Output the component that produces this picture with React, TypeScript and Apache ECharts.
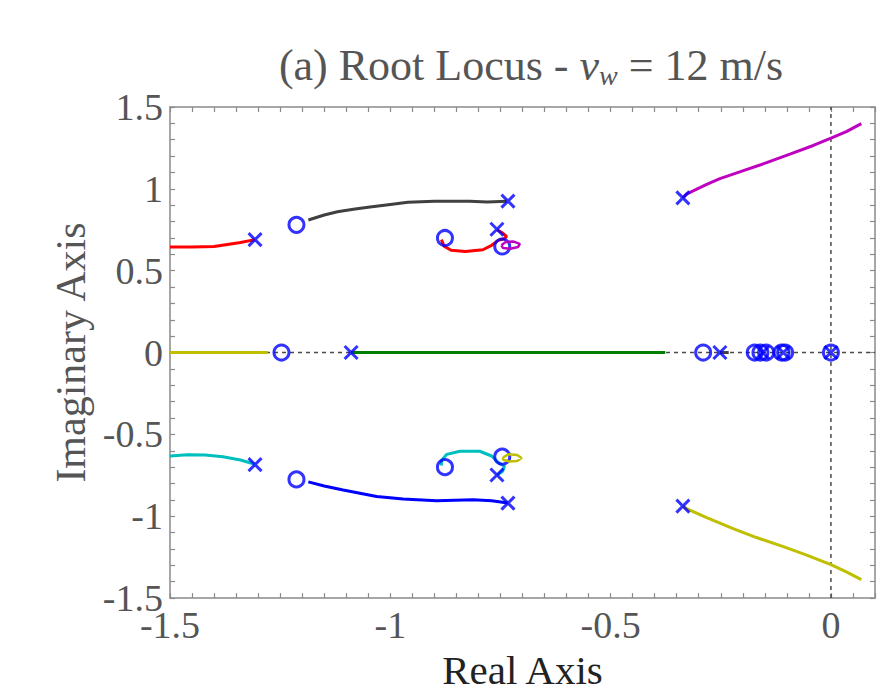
import React, { useEffect, useRef } from "react";
import * as echarts from "echarts";

// ---- data ----
const xTickValues = [-1.5, -1, -0.5, 0];
const yTickValues = [-1.5, -1, -0.5, 0, 0.5, 1, 1.5];

const poles: number[][] = [
  [-1.307, 0.69], [-1.307, -0.685], [-0.733, 0.925], [-0.733, -0.92],
  [-0.758, 0.753], [-0.758, -0.748], [-1.089, 0], [-0.336, 0.945],
  [-0.336, -0.938], [-0.252, 0], [-0.155, 0], [-0.108, 0], [0, 0],
];
const zeros: number[][] = [
  [-1.213, 0.78], [-1.213, -0.775], [-1.247, 0], [-0.876, 0.7],
  [-0.876, -0.7], [-0.746, 0.648], [-0.746, -0.636], [-0.29, 0],
  [-0.173, 0], [-0.16, 0], [-0.147, 0], [-0.112, 0], [-0.104, 0], [0, 0],
];

const redLeft = [[-1.5, 0.645], [-1.45, 0.645], [-1.4, 0.648], [-1.37, 0.66], [-1.34, 0.672], [-1.307, 0.69]];
const cyanLeft = [[-1.5, -0.632], [-1.46, -0.625], [-1.42, -0.626], [-1.38, -0.636], [-1.34, -0.656], [-1.307, -0.682]];
const blackUpper = [[-1.186, 0.81], [-1.15, 0.84], [-1.12, 0.86], [-1.08, 0.877], [-1.046, 0.889], [-1.0, 0.905], [-0.96, 0.918], [-0.9, 0.925], [-0.82, 0.925], [-0.78, 0.92], [-0.736, 0.925]];
const blueLower = [[-1.186, -0.79], [-1.15, -0.815], [-1.107, -0.84], [-1.031, -0.879], [-0.971, -0.895], [-0.895, -0.905], [-0.812, -0.899], [-0.77, -0.905], [-0.733, -0.919]];
const redLoop = [[-0.758, 0.75], [-0.745, 0.73], [-0.736, 0.71], [-0.742, 0.695], [-0.755, 0.685], [-0.77, 0.655], [-0.79, 0.628], [-0.83, 0.618], [-0.862, 0.625], [-0.878, 0.65], [-0.884, 0.69]];
const cyanLoop = [[-0.758, -0.75], [-0.745, -0.725], [-0.741, -0.695], [-0.755, -0.672], [-0.77, -0.632], [-0.797, -0.603], [-0.842, -0.603], [-0.872, -0.622], [-0.884, -0.66], [-0.884, -0.69]];
const magentaLoop = [[-0.748, 0.655], [-0.738, 0.676], [-0.72, 0.678], [-0.706, 0.664], [-0.71, 0.645], [-0.728, 0.634], [-0.744, 0.638], [-0.748, 0.655]];
const yellowLoop = [[-0.744, -0.64], [-0.732, -0.622], [-0.712, -0.626], [-0.702, -0.644], [-0.712, -0.662], [-0.73, -0.666], [-0.744, -0.655], [-0.744, -0.64]];
const yellowAxis = [[-1.5, 0], [-1.278, 0]];
const greenAxis = [[-1.089, 0], [-0.376, 0]];
const grayStub = [[-0.252, 0], [-0.232, 0]];
const magentaUpper = [[-0.336, 0.945], [-0.328, 0.968], [-0.282, 1.027], [-0.252, 1.062], [-0.207, 1.104], [-0.146, 1.16], [-0.093, 1.212], [-0.04, 1.265], [0.0, 1.31], [0.035, 1.35], [0.069, 1.398]];
const yellowLower = [[-0.336, -0.938], [-0.328, -0.953], [-0.282, -1.008], [-0.222, -1.075], [-0.169, -1.13], [-0.108, -1.186], [-0.055, -1.237], [0.0, -1.296], [0.035, -1.34], [0.069, -1.387]];
const zeroLineH = [[-1.5, 0], [0.1, 0]];
const zeroLineV = [[0, -1.5], [0, 1.5]];

const X_MIN = -1.5, X_MAX = 0.1, Y_MIN = -1.5, Y_MAX = 1.5;

const FONT = "'Liberation Serif', 'DejaVu Serif', serif";
const TEXT = "#555555";
const FRAME = "#8a8a8a";

function isMajor(v: number, ticks: number[]) {
  return ticks.some((t) => Math.abs(t - v) < 1e-6);
}
function fmt(v: number) {
  const r = Math.round(v * 10) / 10;
  return r === 0 ? "0" : String(r);
}

export default function App() {
  const ref = useRef<HTMLDivElement>(null);
  useEffect(() => {
    document.body.style.margin = "0";
    const chart = echarts.init(ref.current!, null, { renderer: "svg" });
    const line = (data: number[][], color: string, width = 3, z = 3) => ({
      type: "line",
      data,
      showSymbol: false,
      symbol: "none",
      smooth: false,
      z,
      lineStyle: { color, width },
      silent: true,
    });
    const dashed = (data: number[][]) => ({
      type: "line",
      data,
      symbol: "none",
      z: 1,
      lineStyle: { color: "#4a4a4a", width: 1.5, type: [4, 4] },
      silent: true,
    });
    const axisCommon = {
      type: "value",
      axisLine: { show: true, onZero: false, lineStyle: { color: FRAME, width: 1.5 } },
      axisTick: { show: true, inside: true, length: 5, lineStyle: { color: FRAME, width: 1.2 } },
      splitLine: { show: false },
    };
    chart.setOption({
      animation: false,
      backgroundColor: "#ffffff",
      title: {
        text: "{n|(a) Root Locus - }{i|v}{s|w}{n| = 12 m/s}",
        left: 526,
        top: 36,
        textAlign: "center",
        textStyle: {
          rich: {
            n: { fontFamily: FONT, fontSize: 44, fontWeight: "normal", color: TEXT, lineHeight: 48, verticalAlign: "middle" },
            i: { fontFamily: FONT, fontSize: 44, fontWeight: "normal", fontStyle: "italic", color: TEXT, lineHeight: 48, verticalAlign: "middle" },
            s: { fontFamily: FONT, fontSize: 28, fontWeight: "normal", fontStyle: "italic", color: TEXT, lineHeight: 22, verticalAlign: "bottom" },
          },
        },
      },
      grid: { left: 170, top: 107, width: 705, height: 506, containLabel: false },
      xAxis: [
        {
          ...axisCommon,
          position: "bottom",
          min: X_MIN,
          max: X_MAX,
          interval: 0.05,
          name: "Real Axis",
          nameLocation: "middle",
          nameGap: 40,
          nameTextStyle: { fontFamily: FONT, fontSize: 41, color: "#222" },
          axisLabel: {
            show: true,
            margin: 8,
            fontFamily: FONT,
            fontSize: 38,
            color: TEXT,
            showMinLabel: true,
            showMaxLabel: true,
            formatter: (v: number) => (isMajor(v, xTickValues) ? fmt(v) : ""),
          },
        },
        {
          ...axisCommon,
          position: "top",
          min: X_MIN,
          max: X_MAX,
          interval: 0.05,
          axisLabel: { show: false },
        },
      ],
      yAxis: [
        {
          ...axisCommon,
          position: "left",
          min: Y_MIN,
          max: Y_MAX,
          interval: 0.1,
          name: "Imaginary Axis",
          nameLocation: "middle",
          nameGap: 58,
          nameRotate: 90,
          nameTextStyle: { fontFamily: FONT, fontSize: 42, color: TEXT },
          axisLabel: {
            show: true,
            margin: 7,
            fontFamily: FONT,
            fontSize: 38,
            color: TEXT,
            formatter: (v: number) => (isMajor(v, yTickValues) ? fmt(v) : ""),
          },
        },
        {
          ...axisCommon,
          position: "right",
          min: Y_MIN,
          max: Y_MAX,
          interval: 0.1,
          axisLabel: { show: false },
        },
      ],
      series: [
        dashed(zeroLineH),
        dashed(zeroLineV),
        line(yellowAxis, "#bfbf00"),
        line(greenAxis, "#008000"),
        line(grayStub, "#404040"),
        line(redLeft, "#ff0000"),
        line(cyanLeft, "#00bfbf"),
        line(blackUpper, "#404040"),
        line(blueLower, "#0000ff"),
        line(redLoop, "#ff0000"),
        line(cyanLoop, "#00bfbf"),
        line(magentaUpper, "#bf00bf"),
        line(yellowLower, "#bfbf00"),
        {
          type: "scatter",
          data: zeros,
          symbol: "circle",
          symbolSize: 15,
          z: 5,
          silent: true,
          itemStyle: { color: "rgba(0,0,0,0)", borderColor: "#0000ff", borderWidth: 3 },
        },
        {
          type: "scatter",
          data: poles,
          symbol: "path://M0,0L10,10M10,0L0,10",
          symbolSize: 13,
          z: 6,
          silent: true,
          itemStyle: { color: "rgba(0,0,0,0)", borderColor: "#0000ff", borderWidth: 3 },
        },
        line(magentaLoop, "#bf00bf", 2.5, 7),
        line(yellowLoop, "#bfbf00", 2.5, 7),
      ],
    });
    return () => chart.dispose();
  }, []);
  return <div ref={ref} style={{ width: 880, height: 695 }} />;
}
